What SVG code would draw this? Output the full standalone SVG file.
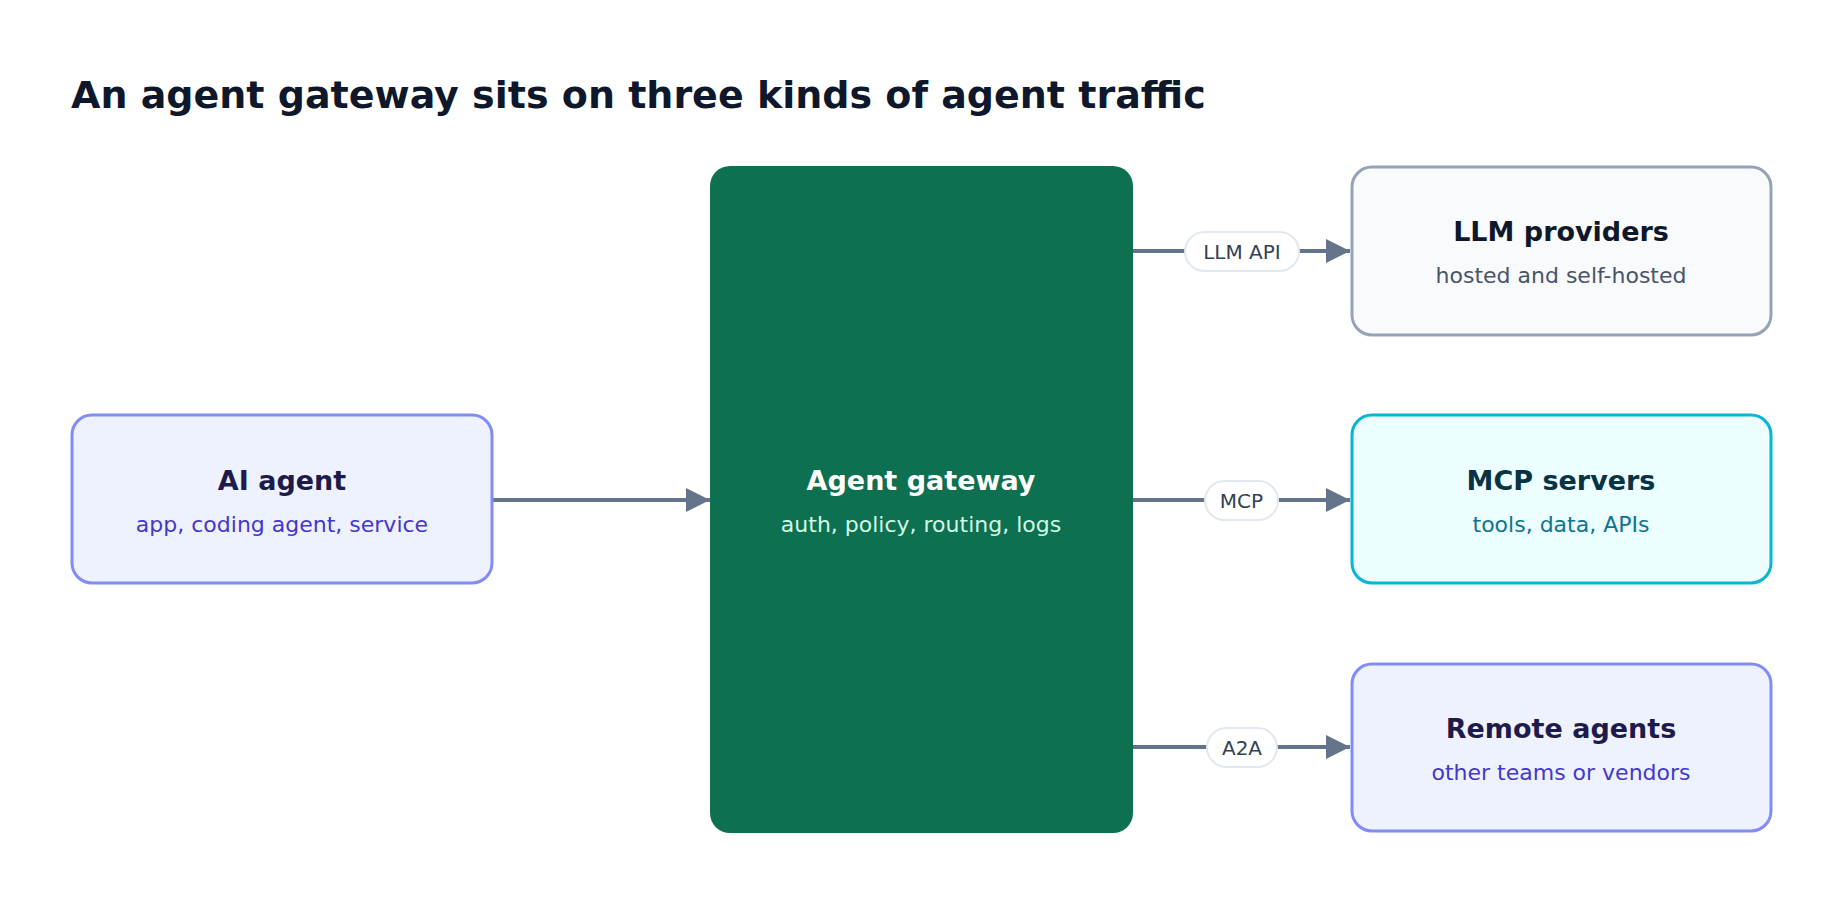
<svg xmlns="http://www.w3.org/2000/svg" width="1844" height="904" viewBox="0 0 1844 904">
<defs>
<style>
text{font-family:"DejaVu Sans","Liberation Sans",sans-serif;text-anchor:middle}
.t{font-size:27px;font-weight:bold}
.s{font-size:22px}
.e{stroke:#64748B;stroke-width:4;fill:none}
.p{fill:#fff;stroke:#E2E8F0;stroke-width:2}
.pl{font-size:20px;fill:#334155}
</style>
<marker id="ah" viewBox="0 0 10 10" refX="10" refY="5" markerWidth="6" markerHeight="6" markerUnits="strokeWidth" orient="auto"><path d="M0,0L10,5L0,10Z" fill="#64748B"/></marker>
</defs>
<rect width="1844" height="904" fill="#fff"/>
<text x="71" y="108" style="text-anchor:start;font-size:38px;font-weight:bold;fill:#0F172A">An agent gateway sits on three kinds of agent traffic</text>
<g id="edges">
<path class="e" d="M492,500H710" marker-end="url(#ah)"/>
<path class="e" d="M1133,251H1350" marker-end="url(#ah)"/>
<path class="e" d="M1133,500H1350" marker-end="url(#ah)"/>
<path class="e" d="M1133,747H1350" marker-end="url(#ah)"/>
<rect class="p" x="1185" y="232" width="114" height="39" rx="19.5"/><text class="pl" x="1242" y="259">LLM API</text>
<rect class="p" x="1205" y="481" width="73" height="39" rx="19.5"/><text class="pl" x="1241.5" y="508">MCP</text>
<rect class="p" x="1207" y="728" width="70" height="39" rx="19.5"/><text class="pl" x="1242" y="755">A2A</text>
</g>
<g id="ai-agent"><rect x="72" y="415" width="420" height="168" rx="20" fill="#EEF2FF" stroke="#818CF8" stroke-width="3"/>
<text class="t" x="282" y="490" fill="#1E1B4B">AI agent</text><text class="s" x="282" y="532" fill="#4338CA">app, coding agent, service</text></g>
<g id="gateway"><rect x="710" y="166" width="423" height="667" rx="20" fill="#0D7050"/>
<text class="t" x="921" y="490" fill="#fff">Agent gateway</text><text class="s" x="921" y="532" fill="#D1FAE5">auth, policy, routing, logs</text></g>
<g id="llm"><rect x="1352" y="167" width="419" height="168" rx="20" fill="#F8FAFC" stroke="#94A3B8" stroke-width="3"/>
<text class="t" x="1561" y="241" fill="#0F172A">LLM providers</text><text class="s" x="1561" y="283" fill="#475569">hosted and self-hosted</text></g>
<g id="mcp"><rect x="1352" y="415" width="419" height="168" rx="20" fill="#ECFEFF" stroke="#06B6D4" stroke-width="3"/>
<text class="t" x="1561" y="490" fill="#083344">MCP servers</text><text class="s" x="1561" y="532" fill="#0E7490">tools, data, APIs</text></g>
<g id="remote"><rect x="1352" y="664" width="419" height="167" rx="20" fill="#EEF2FF" stroke="#818CF8" stroke-width="3"/>
<text class="t" x="1561" y="738" fill="#1E1B4B">Remote agents</text><text class="s" x="1561" y="780" fill="#4338CA">other teams or vendors</text></g>
</svg>
